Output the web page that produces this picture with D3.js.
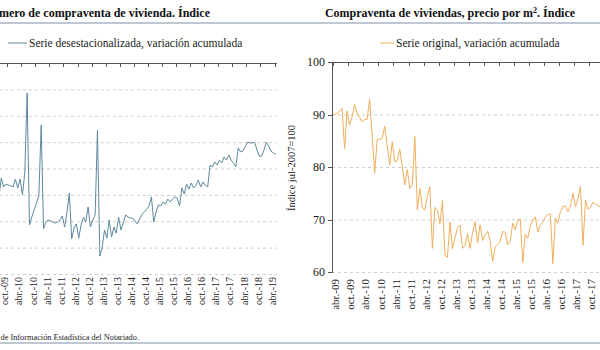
<!DOCTYPE html>
<meta charset="utf-8">
<style>
body { margin: 0; background: #fff; }
svg, svg text { font-family: "Liberation Serif", "DejaVu Serif", serif; }
.titulo { font-size: 12px; font-weight: bold; fill: #111; }
.leyenda { font-size: 11.5px; fill: #222; }
.grid line { stroke: #cfcfcf; stroke-dasharray: 3,3; }
.grid path { display: none; }
.eje path, .eje line { stroke: #555; fill: none; shape-rendering: crispEdges; }
.eje text { fill: #222; font-family: "Liberation Serif", serif; }
.etiquetas path, .etiquetas line { display: none; }
.etiquetas text { fill: #222; font-family: "Liberation Serif", serif; }
.linea { fill: none; stroke-width: 1; }
</style>
<body>
<script src="https://d3js.org/d3.v7.min.js"></script>
<script>

// etiquetas del eje de categorías (cada 6 meses, desde abr.-09)
var tickLabels = ["abr.-09","oct.-09","abr.-10","oct.-10","abr.-11","oct.-11","abr.-12","oct.-12",
  "abr.-13","oct.-13","abr.-14","oct.-14","abr.-15","oct.-15","abr.-16","oct.-16",
  "abr.-17","oct.-17","abr.-18","oct.-18","abr.-19"];

// número de compraventas, serie desestacionalizada (mensual desde abr.-09)
var compraventa = [
  52.6,54.5,49.6,56.4,53.0,54.1,53.7,53.4,53.0,56.0,52.6,56.0,50.0,58.3,88.6,38.6,
  41.6,44.3,46.9,49.6,76.5,37.1,39.7,40.5,40.1,39.7,39.3,39.7,40.5,42.0,37.8,43.5,
  50.7,33.3,37.4,39.0,33.6,38.6,41.6,39.7,45.4,37.8,40.5,42.4,74.6,26.8,29.9,36.7,
  33.6,40.5,34.0,37.8,35.5,41.6,36.7,39.3,42.4,41.6,41.2,41.2,40.1,39.0,40.9,42.7,
  43.5,44.6,45.8,49.2,39.7,43.5,46.2,45.8,47.3,46.5,48.4,47.3,48.4,49.2,48.8,45.8,
  52.6,50.3,54.1,52.2,54.5,52.6,53.7,55.6,53.0,54.9,53.7,53.0,61.3,60.6,62.5,61.3,
  63.2,62.1,64.4,63.2,65.1,63.2,62.1,60.6,67.8,66.3,66.6,68.2,70.0,69.7,69.7,70.0,
  67.0,64.7,64.7,67.0,70.0,68.5,66.6,65.9,65.5];

// precio por m2, serie original (mensual desde abr.-09)
var precioM2 = [
  90.1,90.0,90.2,90.6,91.2,83.5,90.7,88.0,89.5,91.9,90.3,89.5,88.6,89.0,89.1,92.9,
  85.9,78.8,85.3,85.3,85.4,87.8,83.9,80.4,84.8,81.0,81.2,83.4,80.0,76.6,79.5,75.9,
  76.7,85.8,71.8,75.9,72.2,71.8,74.5,76.2,64.5,72.3,71.8,69.2,73.6,63.2,62.8,69.5,
  64.4,66.5,68.5,69.0,64.5,65.0,67.3,64.5,67.5,69.6,65.5,69.0,66.0,67.0,67.8,66.0,
  62.0,64.8,65.3,65.8,67.7,67.6,65.2,65.8,69.3,68.0,69.9,70.1,61.8,67.2,66.4,68.8,
  69.8,70.5,67.6,69.0,69.5,70.5,71.0,71.0,61.6,70.2,69.3,71.5,72.4,72.6,71.5,72.5,
  75.0,72.5,74.0,76.3,65.1,73.7,72.0,72.3,73.3,73.0,72.6,72.4];

var ticksIzq = [20,30,40,50,60,70,80,90,100];
var ticksDer = [60,70,80,90,100];

var svg = d3.select("body").append("svg")
    .attr("width", 600)
    .attr("height", 350);

// líneas separadoras
svg.append("line").attr("x1", 0).attr("x2", 600).attr("y1", 23).attr("y2", 23)
    .attr("stroke", "#aab5c5").attr("stroke-width", 1.6);
svg.append("line").attr("x1", 0).attr("x2", 600).attr("y1", 343).attr("y2", 343)
    .attr("stroke", "#aab5c5").attr("stroke-width", 1.6);

// títulos
svg.append("text").attr("class", "titulo").attr("x", 210).attr("y", 17)
    .style("text-anchor", "end")
    .text("Número de compraventa de vivienda. Índice");
var t2 = svg.append("text").attr("class", "titulo").attr("x", 450).attr("y", 17)
    .style("text-anchor", "middle");
t2.append("tspan").text("Compraventa de viviendas, precio por m");
t2.append("tspan").attr("dy", -4).style("font-size", "8px").text("2");
t2.append("tspan").attr("dy", 4).text(". Índice");

// fuente
svg.append("text").attr("x", 139).attr("y", 340)
    .style("text-anchor", "end").style("font-size", "8.3px").attr("fill", "#222")
    .text("Fuente: Centro de Información Estadística del Notariado.");

function grafico(cfg) {
  var x = d3.scaleLinear().domain([0, 120]).range(cfg.xr);
  var y = d3.scaleLinear().domain(cfg.dom).range(cfg.yr);
  var g = svg.append("g");

  // rejilla
  g.append("g").attr("class", "grid")
    .attr("transform", "translate(" + cfg.x0 + ",0)")
    .call(d3.axisLeft(y).tickValues(cfg.ticks.slice(0, -1)).tickSize(-(cfg.x1 - cfg.x0)).tickFormat(""));

  // eje superior con marcas cada 6 meses
  var marcas = d3.range(0, 21).map(function(k) { return 6 * k + cfg.tickOff; });
  g.append("g").attr("class", "eje")
    .attr("transform", "translate(0," + y(cfg.dom[1]) + ")")
    .call(d3.axisBottom(x).tickValues(marcas).tickSize(4).tickSizeOuter(0).tickFormat(""))
    .select(".domain").attr("d", "M" + cfg.x0 + ",0H" + cfg.x1);

  // etiquetas de categoría
  var et = g.append("g").attr("class", "etiquetas")
    .attr("transform", "translate(" + cfg.labDx + "," + cfg.labY + ")")
    .call(d3.axisBottom(x).tickValues(d3.range(cfg.labFrom, cfg.labTo, 6)).tickSize(0)
      .tickFormat(function(d) { return tickLabels[d / 6]; }));
  et.attr("font-family", null);
  et.selectAll("text")
    .attr("transform", "rotate(-90)")
    .attr("x", 0).attr("y", 0).attr("dy", "0.35em")
    .style("text-anchor", "end")
    .style("font-size", cfg.labSize);

  // serie
  g.append("path").datum(cfg.data)
    .attr("class", "linea")
    .attr("stroke", cfg.color)
    .attr("d", d3.line().x(function(d, i) { return x(i); }).y(function(d) { return y(d); }));

  return {x: x, y: y, g: g};
}

var izq = grafico({
  data: compraventa, dom: [20, 100], ticks: ticksIzq,
  xr: [-5.7, 275.7], yr: [274, 63], x0: -7, x1: 277,
  tickOff: -0.5, labFrom: 6, labTo: 121, labDx: -4, labY: 277, labSize: "10px", color: "#5f899e"
});

var der = grafico({
  data: precioM2, dom: [60, 100], ticks: ticksDer,
  xr: [332, 633.2], yr: [272, 62], x0: 332, x1: 640,
  tickOff: 0.5, labFrom: 0, labTo: 103, labDx: 3, labY: 279, labSize: "11px", color: "#f0ae5c"
});

// eje vertical derecho
var ejeY = der.g.append("g").attr("class", "eje")
  .attr("transform", "translate(332,0)")
  .call(d3.axisLeft(der.y).tickValues(ticksDer).tickSize(4).tickSizeOuter(0).tickPadding(3));
ejeY.attr("font-family", null);
ejeY.selectAll("text").style("font-size", "12px");

svg.append("text")
  .attr("transform", "translate(295,168) rotate(-90)")
  .style("text-anchor", "middle").style("font-size", "10.5px").attr("fill", "#222")
  .text("Índice jul-2007=100");

// leyendas
svg.append("line").attr("x1", 8).attr("x2", 27).attr("y1", 43).attr("y2", 43)
  .attr("stroke", "#5f899e");
svg.append("text").attr("class", "leyenda").attr("x", 29).attr("y", 47)
  .text("Serie desestacionalizada, variación acumulada");
svg.append("line").attr("x1", 380).attr("x2", 394).attr("y1", 43).attr("y2", 43)
  .attr("stroke", "#f0ae5c");
svg.append("text").attr("class", "leyenda").attr("x", 396).attr("y", 47)
  .text("Serie original, variación acumulada");

</script>
</body>
